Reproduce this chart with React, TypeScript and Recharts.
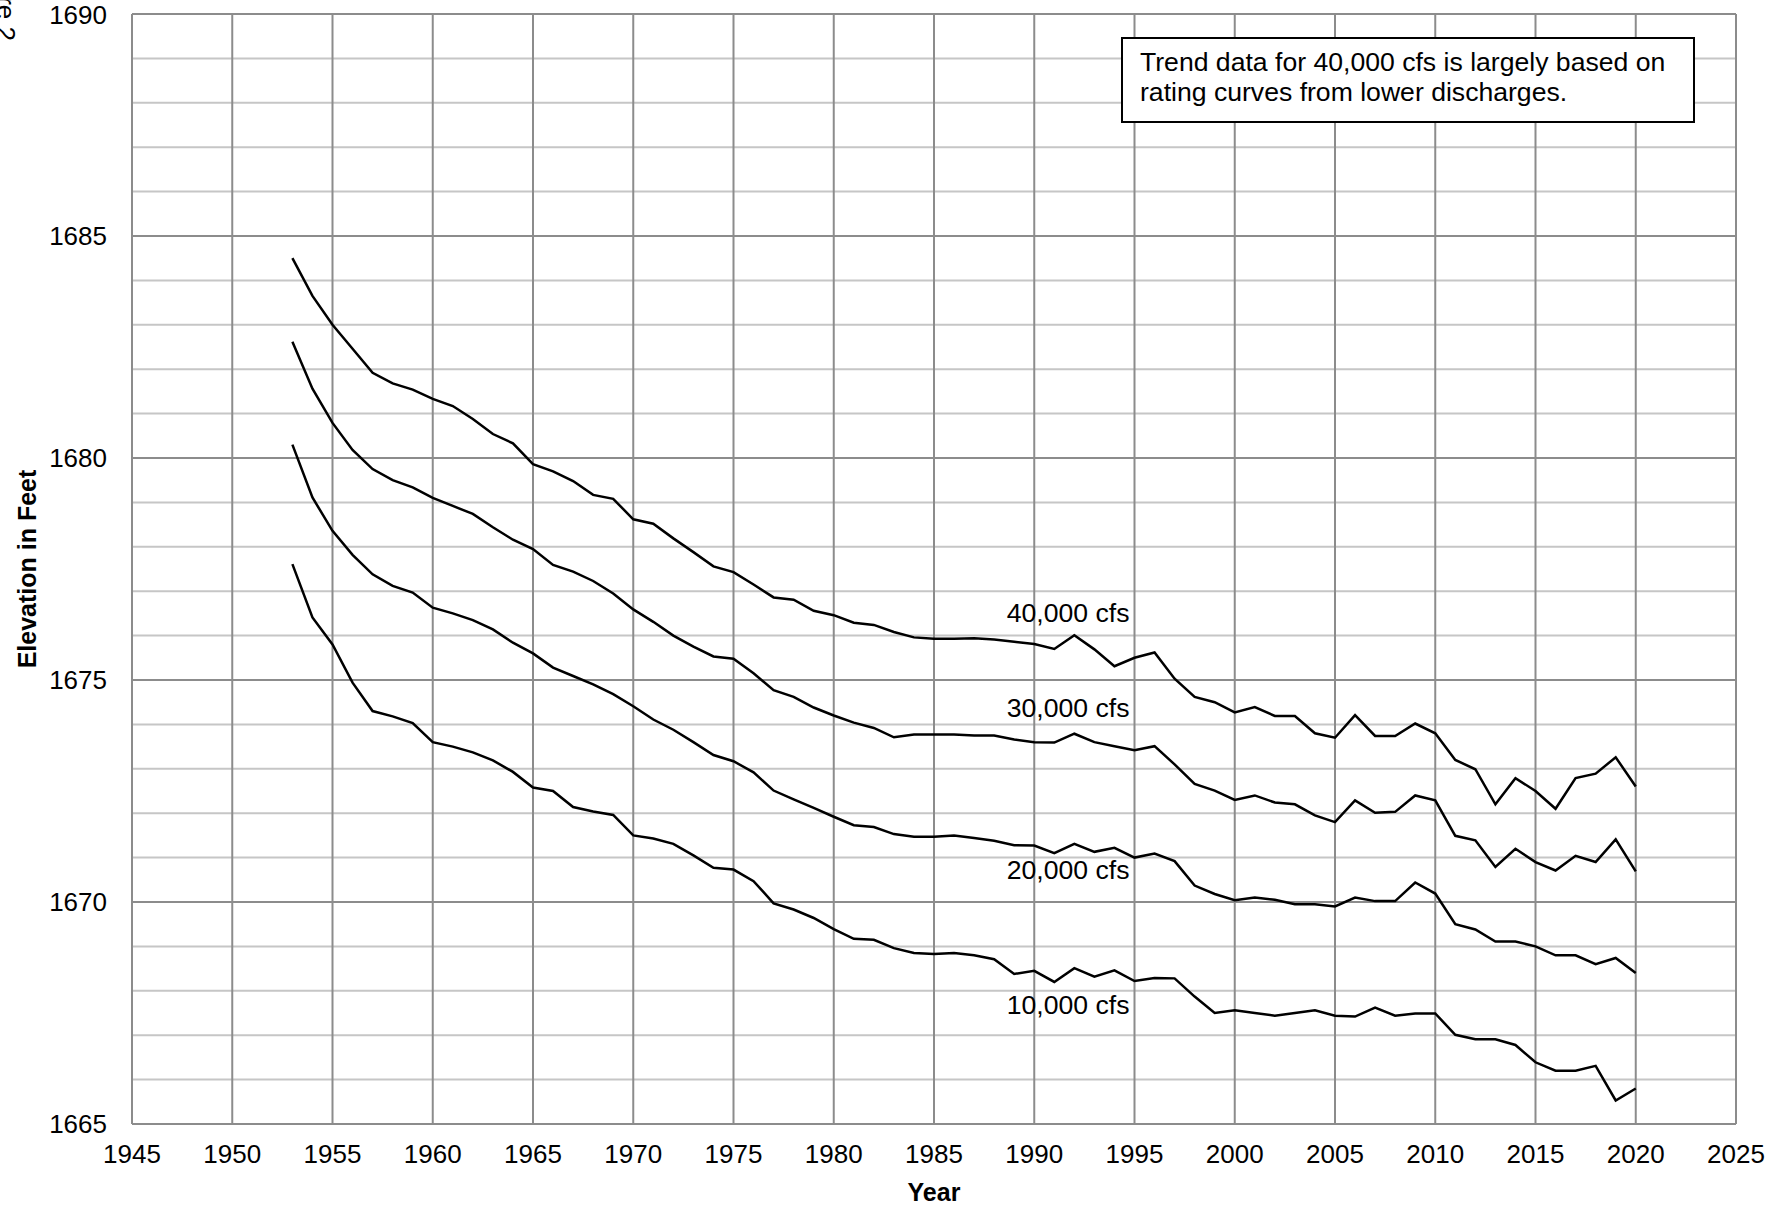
import React from 'react';
import {
  LineChart,
  Line,
  XAxis,
  YAxis,
  CartesianGrid,
  ReferenceDot,
} from 'recharts';

// water year of each rating-curve point
const years = [
  1953, 1954, 1955, 1956, 1957, 1958, 1959, 1960, 1961, 1962, 1963, 1964, 1965, 1966, 1967, 1968, 1969,
  1970, 1971, 1972, 1973, 1974, 1975, 1976, 1977, 1978, 1979, 1980, 1981, 1982, 1983, 1984, 1985, 1986,
  1987, 1988, 1989, 1990, 1991, 1992, 1993, 1994, 1995, 1996, 1997, 1998, 1999, 2000, 2001, 2002, 2003,
  2004, 2005, 2006, 2007, 2008, 2009, 2010, 2011, 2012, 2013, 2014, 2015, 2016, 2017, 2018, 2019, 2020,
];

// stage (ft) at each discharge
const stage40k = [
  1684.5, 1683.65, 1683.0, 1682.46, 1681.92, 1681.68, 1681.54, 1681.33, 1681.17, 1680.88, 1680.54, 1680.33,
  1679.86, 1679.7, 1679.48, 1679.17, 1679.08, 1678.62, 1678.52, 1678.19, 1677.88, 1677.56, 1677.43, 1677.15,
  1676.86, 1676.81, 1676.56, 1676.46, 1676.29, 1676.24, 1676.08, 1675.96, 1675.93, 1675.93, 1675.94, 1675.91,
  1675.86, 1675.81, 1675.7, 1676.01, 1675.69, 1675.31, 1675.5, 1675.62, 1675.03, 1674.62, 1674.5, 1674.27,
  1674.39, 1674.19, 1674.19, 1673.8, 1673.7, 1674.21, 1673.74, 1673.74, 1674.02, 1673.8, 1673.2, 1672.99,
  1672.2, 1672.79, 1672.5, 1672.1, 1672.79, 1672.89, 1673.26, 1672.6,
];

const stage30k = [
  1682.62, 1681.56, 1680.79, 1680.18, 1679.75, 1679.5, 1679.34, 1679.1, 1678.92, 1678.74, 1678.44, 1678.16,
  1677.95, 1677.59, 1677.44, 1677.23, 1676.95, 1676.59, 1676.31, 1676.0, 1675.75, 1675.53, 1675.48, 1675.15,
  1674.77, 1674.62, 1674.38, 1674.2, 1674.04, 1673.92, 1673.71, 1673.77, 1673.77, 1673.77, 1673.75, 1673.75,
  1673.66, 1673.6, 1673.59, 1673.79, 1673.6, 1673.51, 1673.42, 1673.51, 1673.1, 1672.66, 1672.51, 1672.3,
  1672.4, 1672.24, 1672.2, 1671.95, 1671.8, 1672.29, 1672.01, 1672.03, 1672.4, 1672.29, 1671.49, 1671.39,
  1670.79, 1671.2, 1670.9, 1670.71, 1671.04, 1670.9, 1671.41, 1670.69,
];

const stage20k = [
  1680.3, 1679.11, 1678.36, 1677.82, 1677.38, 1677.12, 1676.97, 1676.63, 1676.5, 1676.35, 1676.14, 1675.84,
  1675.6, 1675.28, 1675.09, 1674.9, 1674.68, 1674.41, 1674.11, 1673.88, 1673.6, 1673.31, 1673.17, 1672.92,
  1672.51, 1672.31, 1672.12, 1671.92, 1671.73, 1671.69, 1671.53, 1671.47, 1671.47, 1671.5, 1671.44, 1671.38,
  1671.28, 1671.27, 1671.1, 1671.31, 1671.13, 1671.22, 1671.0, 1671.09, 1670.92, 1670.37, 1670.18, 1670.04,
  1670.1, 1670.05, 1669.95, 1669.95, 1669.9, 1670.1, 1670.02, 1670.02, 1670.44, 1670.19, 1669.5, 1669.38,
  1669.11, 1669.11, 1669.0, 1668.8, 1668.8, 1668.6, 1668.74, 1668.4,
];

const stage10k = [
  1677.61, 1676.41, 1675.8, 1674.94, 1674.3, 1674.18, 1674.03, 1673.6, 1673.5, 1673.37, 1673.19, 1672.93,
  1672.58, 1672.5, 1672.14, 1672.04, 1671.96, 1671.5, 1671.43, 1671.31, 1671.05, 1670.77, 1670.73, 1670.47,
  1669.97, 1669.83, 1669.64, 1669.39, 1669.17, 1669.15, 1668.96, 1668.85, 1668.83, 1668.85, 1668.8, 1668.71,
  1668.38, 1668.45, 1668.2, 1668.51, 1668.32, 1668.46, 1668.22, 1668.29, 1668.28, 1667.87, 1667.5, 1667.56,
  1667.5, 1667.44, 1667.5, 1667.56, 1667.44, 1667.42, 1667.62, 1667.44, 1667.49, 1667.49, 1667.01, 1666.91,
  1666.91, 1666.78, 1666.39, 1666.2, 1666.2, 1666.31, 1665.53, 1665.8,
];

const yearTicks = [1945, 1950, 1955, 1960, 1965, 1970, 1975, 1980, 1985, 1990, 1995, 2000, 2005, 2010, 2015, 2020, 2025];
const elevTicks = [1665, 1670, 1675, 1680, 1685, 1690];
const elevMinor = [
  1665, 1666, 1667, 1668, 1669, 1670, 1671, 1672, 1673, 1674, 1675, 1676, 1677,
  1678, 1679, 1680, 1681, 1682, 1683, 1684, 1685, 1686, 1687, 1688, 1689, 1690,
];

const seriesKeys = ['q40', 'q30', 'q20', 'q10'];
const seriesNames = ['40,000 cfs', '30,000 cfs', '20,000 cfs', '10,000 cfs'];

// where the discharge names sit (year, elevation), right-aligned
const labelYear = 1994.8;
const labelElev = [1676.53, 1674.39, 1670.72, 1667.68];

const chartData = years.map((year, i) => ({
  year,
  q40: stage40k[i],
  q30: stage30k[i],
  q20: stage20k[i],
  q10: stage10k[i],
}));

const FONT = '"Liberation Sans", Arial, sans-serif';
const gridDark = '#8c8c8c';
const gridLight = '#c6c6c6';

export default function App() {
  return (
    <div style={{ position: 'absolute', left: 0, top: 0, width: 1775, height: 1209, background: '#fff', fontFamily: FONT }}>
      <LineChart
        width={1775}
        height={1209}
        data={chartData}
        margin={{ top: 14, right: 39, left: 32, bottom: 25 }}
      >
        <CartesianGrid vertical={false} horizontalValues={elevMinor} stroke={gridLight} strokeWidth={2} />
        <CartesianGrid horizontalValues={elevTicks} verticalValues={yearTicks} stroke={gridDark} strokeWidth={2} />
        <XAxis
          dataKey="year"
          type="number"
          domain={[1945, 2025]}
          ticks={yearTicks}
          height={60}
          tickSize={0}
          tickMargin={21}
          axisLine={{ stroke: gridDark, strokeWidth: 2 }}
          tick={{ fill: '#000', fontSize: 26, fontFamily: FONT }}
          label={{
            content: ({ viewBox }: any) => (
              <text
                x={viewBox.x + viewBox.width / 2}
                y={1192}
                textAnchor="middle"
                dominantBaseline="central"
                fontSize={25}
                fontWeight="bold"
                fontFamily={FONT}
                fill="#000"
              >
                Year
              </text>
            ),
          }}
        />
        <YAxis
          type="number"
          domain={[1665, 1690]}
          ticks={elevTicks}
          width={100}
          tickSize={0}
          tickMargin={25}
          axisLine={{ stroke: gridDark, strokeWidth: 2 }}
          tick={{ fill: '#000', fontSize: 26, fontFamily: FONT }}
          label={{
            content: ({ viewBox }: any) => {
              const cy = viewBox.y + viewBox.height / 2;
              return (
                <text
                  x={27}
                  y={cy}
                  transform={`rotate(-90, 27, ${cy})`}
                  textAnchor="middle"
                  dominantBaseline="central"
                  fontSize={25}
                  fontWeight="bold"
                  fontFamily={FONT}
                  fill="#000"
                >
                  Elevation in Feet
                </text>
              );
            },
          }}
        />
        {seriesKeys.map((key) => (
          <Line
            key={key}
            dataKey={key}
            type="linear"
            stroke="#000"
            strokeWidth={2.5}
            dot={false}
            activeDot={false}
            isAnimationActive={false}
          />
        ))}
        {seriesNames.map((name, i) => (
          <ReferenceDot
            key={name}
            x={labelYear}
            y={labelElev[i]}
            r={1}
            fill="none"
            stroke="none"
            label={{ value: name, position: 'left', offset: 0, fill: '#000', fontSize: 26.6, fontFamily: FONT }}
          />
        ))}
      </LineChart>

      {/* note box, upper right */}
      <div
        style={{
          position: 'absolute',
          left: 1121,
          top: 37,
          width: 574,
          height: 86,
          boxSizing: 'border-box',
          border: '2px solid #000',
          background: '#fff',
          padding: '8px 0 0 17px',
          fontSize: 26.6,
          lineHeight: '30px',
          color: '#000',
        }}
      >
        Trend data for 40,000 cfs is largely based on
        <br />
        rating curves from lower discharges.
      </div>

      {/* page caption cut off at the top-left edge */}
      <svg width={30} height={60} style={{ position: 'absolute', left: 0, top: 0 }}>
        <text transform="translate(-3,41) rotate(90)" textAnchor="end" fontSize={26} fontFamily={FONT} fill="#000">
          Figure 2
        </text>
      </svg>
    </div>
  );
}
